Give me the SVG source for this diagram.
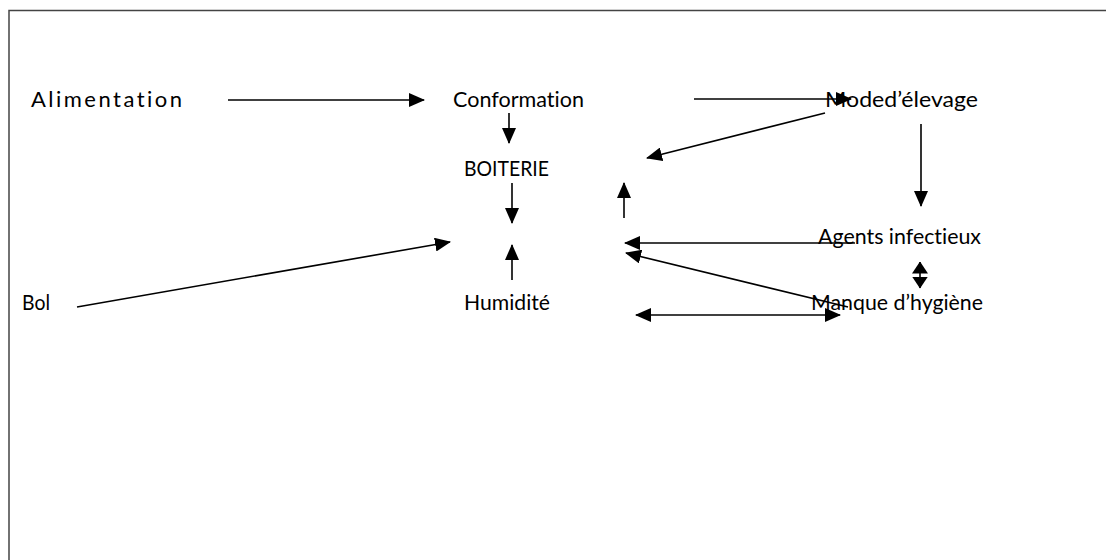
<svg xmlns="http://www.w3.org/2000/svg" width="1106" height="560" viewBox="0 0 1106 560">
<style>
text{font-family:Lato,"Liberation Sans",sans-serif;font-size:22px;fill:#000;font-variant-ligatures:none}
.c line{stroke:#000;stroke-width:1.6;fill:none}
</style>
<defs>
<marker id="ah" markerUnits="userSpaceOnUse" markerWidth="16" markerHeight="14" refX="15" refY="7" orient="auto-start-reverse">
<path d="M0,0 L16,7 L0,14 Z" fill="#000"/>
</marker>
<marker id="ah2" markerUnits="userSpaceOnUse" markerWidth="12" markerHeight="16" refX="11.5" refY="8" orient="auto-start-reverse">
<path d="M0,0 L12,8 L0,16 Z" fill="#000"/>
</marker>
</defs>
<rect width="1106" height="560" fill="#fff"/>
<rect x="9" y="10.5" width="1110" height="600" fill="none" stroke="#444" stroke-width="1.5"/>
<g id="n-alimentation"><text x="31" y="107" textLength="151" lengthAdjust="spacing">Alimentation</text></g>
<g id="n-conformation"><text x="453" y="107" textLength="131" lengthAdjust="spacingAndGlyphs">Conformation</text></g>
<g id="n-mode"><text x="825" y="107" textLength="153" lengthAdjust="spacingAndGlyphs">Moded’élevage</text></g>
<g id="n-boiterie"><text x="464" y="176" textLength="85" lengthAdjust="spacingAndGlyphs">BOITERIE</text></g>
<g id="n-agents"><text x="818" y="244" textLength="163" lengthAdjust="spacingAndGlyphs">Agents infectieux</text></g>
<g id="n-bol"><text x="22" y="310" textLength="28" lengthAdjust="spacingAndGlyphs">Bol</text></g>
<g id="n-humidite"><text x="464" y="310" textLength="86" lengthAdjust="spacingAndGlyphs">Humidité</text></g>
<g id="n-manque"><text x="811" y="310" textLength="172" lengthAdjust="spacingAndGlyphs">Manque d’hygiène</text></g>
<g class="c" id="connectors">
<line x1="228" y1="100" x2="424" y2="100" marker-end="url(#ah)"/>
<line x1="694" y1="99" x2="851" y2="99" marker-end="url(#ah)"/>
<line x1="509" y1="113" x2="509" y2="143" marker-end="url(#ah)"/>
<line x1="825" y1="113" x2="647" y2="158" marker-end="url(#ah)"/>
<line x1="921" y1="124" x2="921" y2="206" marker-end="url(#ah)"/>
<line x1="512" y1="183" x2="512" y2="223" marker-end="url(#ah)"/>
<line x1="512" y1="280" x2="512" y2="245" marker-end="url(#ah)"/>
<line x1="624" y1="218" x2="624" y2="183" marker-end="url(#ah)"/>
<line x1="855" y1="243" x2="625" y2="243" marker-end="url(#ah)"/>
<line x1="848" y1="307" x2="626" y2="253" marker-end="url(#ah)"/>
<line x1="636" y1="315" x2="840" y2="315" marker-start="url(#ah)" marker-end="url(#ah)"/>
<line x1="920" y1="262" x2="920" y2="288" marker-start="url(#ah2)" marker-end="url(#ah2)"/>
<line x1="77" y1="307" x2="450" y2="242" marker-end="url(#ah)"/>
</g>
</svg>
